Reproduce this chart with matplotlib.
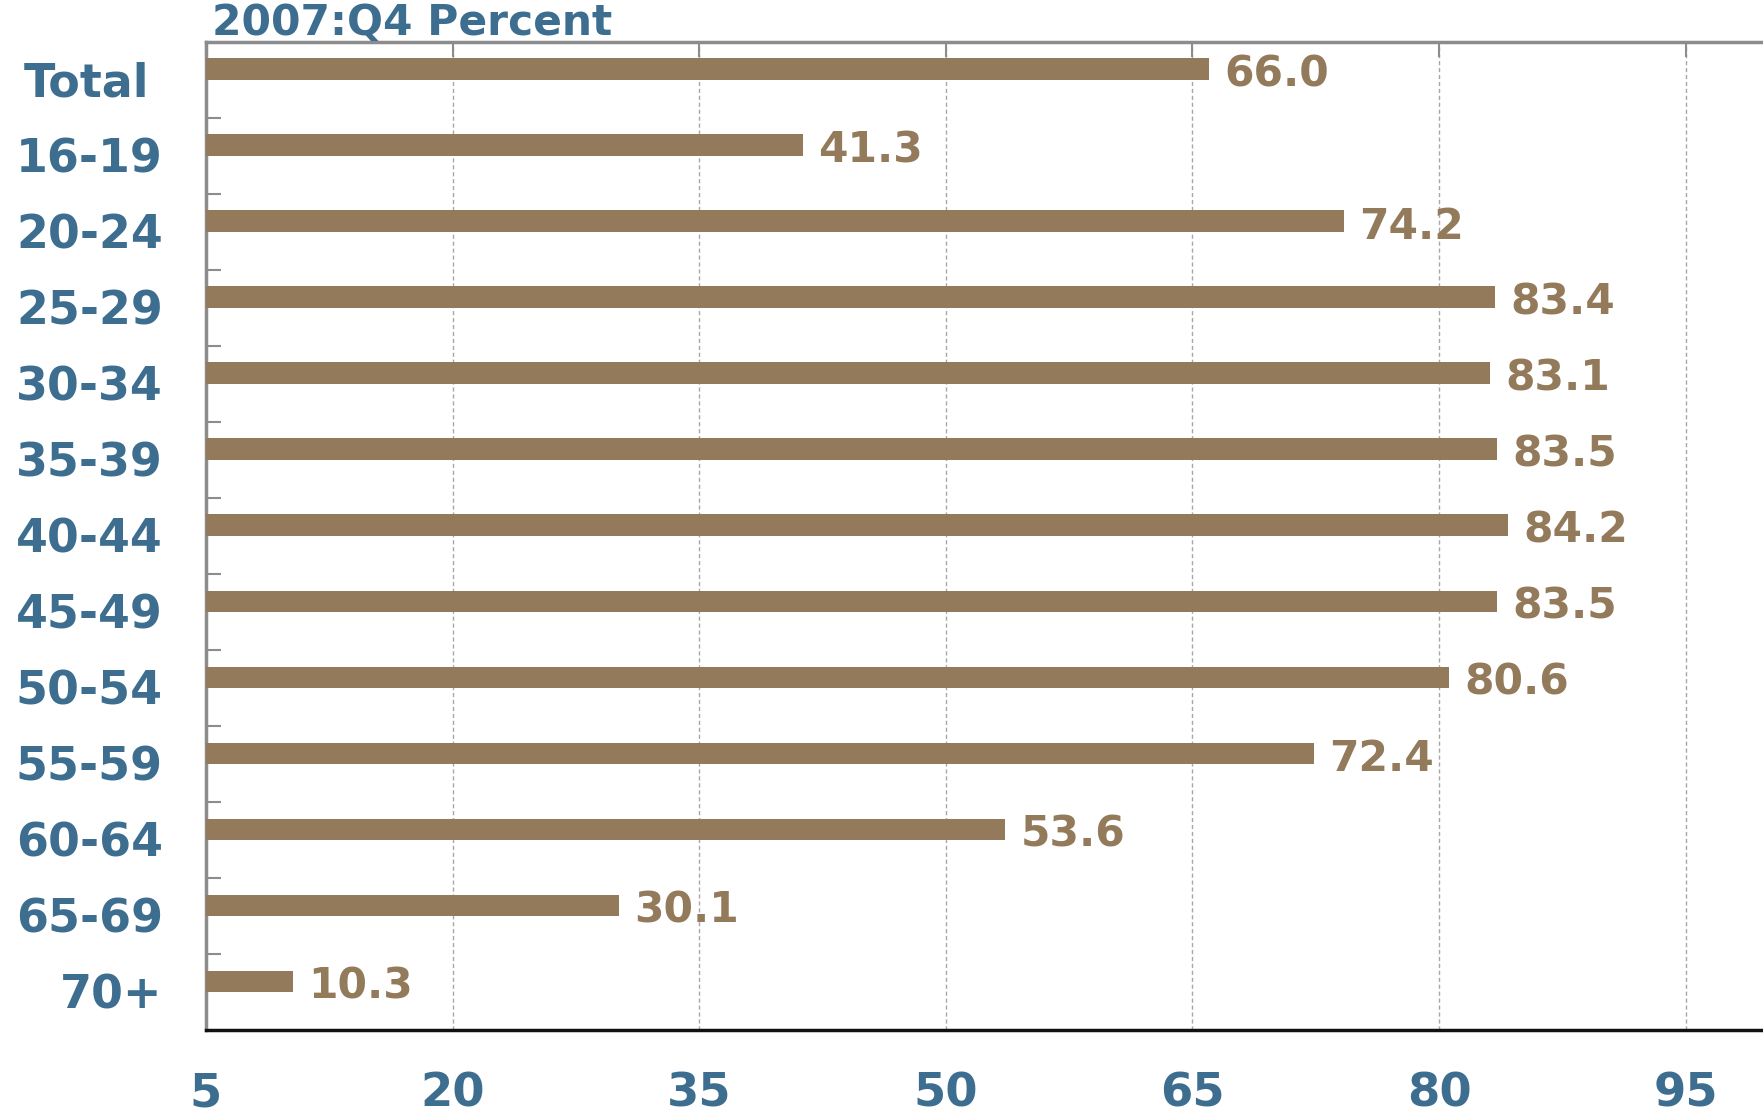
import matplotlib
matplotlib.use("Agg")
import matplotlib.pyplot as plt
import matplotlib.transforms as mtransforms
import numpy as np

categories = ["Total", "16-19", "20-24", "25-29", "30-34", "35-39", "40-44",
              "45-49", "50-54", "55-59", "60-64", "65-69", "70+"]
values = [66.0, 41.3, 74.2, 83.4, 83.1, 83.5, 84.2, 83.5, 80.6, 72.4, 53.6, 30.1, 10.3]
x_ticks = [5, 20, 35, 50, 65, 80, 95]
title_text = "2007:Q4 Percent"

BLUE = "#3D6E90"
BROWN = "#937A5B"
GREY = "#8C8C8C"

plt.rcParams['font.family'] = ['DejaVu Sans']

fig = plt.figure(figsize=(17.63, 11.14), dpi=100)
ax = fig.add_axes([0.1168, 0.0754, 1.0 - 0.1168, 0.9627 - 0.0754])

y = np.arange(len(categories))
ax.barh(y, [v - 5 for v in values], left=5, height=0.28, color=BROWN, zorder=3)

ax.set_xlim(5, 99.7)
ax.set_ylim(len(categories) - 1 + 0.64, -0.36)

# value labels
for yi, v in zip(y, values):
    ax.annotate(f"{v:.1f}", xy=(v, yi), xytext=(11, -4), textcoords="offset points",
                ha="left", va="center", fontsize=30.5, fontweight="bold", color=BROWN, zorder=4)

# x ticks
ax.set_xticks(x_ticks)
ax.set_xticklabels([str(t) for t in x_ticks], fontsize=33.5, fontweight="bold", color=BLUE)
ax.tick_params(axis="x", which="major", bottom=False, top=True, direction="in",
               length=11, width=1.5, color=GREY, pad=30, labelbottom=True)
ax.grid(axis="x", which="major", linestyle=(0, (3, 2)), color="#A8A8A8", linewidth=1.0, zorder=1)

# y ticks (category labels) and minor boundary ticks
ax.set_yticks(y)
ax.set_yticklabels(categories, fontsize=33, fontweight="bold", color=BLUE)
ax.tick_params(axis="y", which="major", length=0, pad=31)
ax.set_yticks(y[:-1] + 0.64, minor=True)
ax.tick_params(axis="y", which="minor", direction="in", length=11, width=1.5, color=GREY)

# shift labels slightly down, Total a bit left
for lab in ax.get_yticklabels():
    dx = -14 / 100 if lab.get_text() == "Total" else 0
    lab.set_transform(lab.get_transform() + mtransforms.ScaledTranslation(dx, -10 / 100, fig.dpi_scale_trans))

# spines
ax.spines["left"].set_color(GREY)
ax.spines["left"].set_linewidth(2.5)
ax.spines["top"].set_color(GREY)
ax.spines["top"].set_linewidth(2.5)
ax.spines["bottom"].set_color("#111111")
ax.spines["bottom"].set_linewidth(2.5)
ax.spines["right"].set_visible(False)

ax.text(0.004, 0.998, title_text, transform=ax.transAxes, ha="left", va="bottom",
        fontsize=30.5, fontweight="bold", color=BLUE)

fig.savefig("out.png", dpi=100)
